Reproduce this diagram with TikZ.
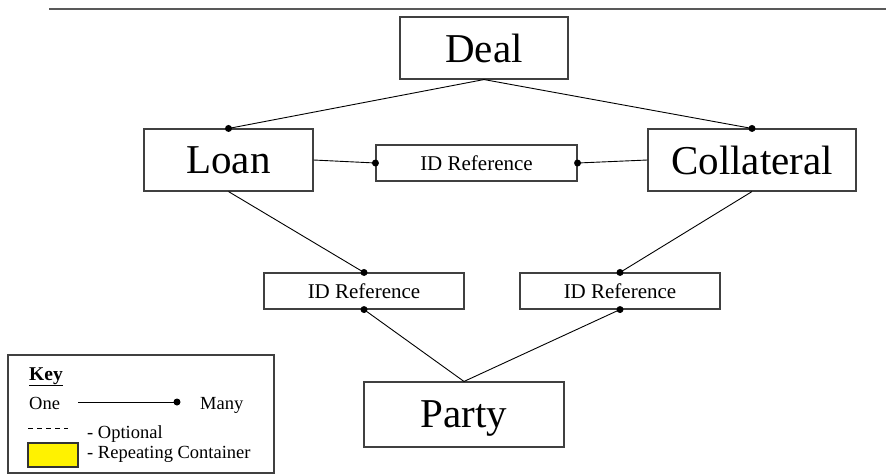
\documentclass[tikz,border=0pt]{standalone}
\usepackage{fontspec}
\setmainfont{Liberation Serif}
\begin{document}
\begin{tikzpicture}[x=1pt,y=-1pt,
  bigbox/.style={draw=black!75,line width=1.1pt,fill=white,inner sep=0pt,
    minimum height=62pt,text depth=0pt,font=\fontsize{41}{45}\selectfont},
  refbox/.style={draw=black!75,line width=1.1pt,fill=white,inner sep=0pt,
    minimum width=200pt,minimum height=36pt,text depth=0pt,font=\fontsize{21}{24}\selectfont},
  conn/.style={draw=black,line width=0.9pt},
  dot/.style={circle,fill=black,inner sep=0pt,minimum size=7pt},
  keytext/.style={inner sep=0pt,font=\fontsize{18.5}{21}\selectfont}]
\useasboundingbox (0,0) rectangle (886,475);
% top rule
\coordinate (ruleL) at (49,9);
\coordinate (ruleR) at (886,9);
\draw[black!65,line width=1.6pt] (ruleL) -- (ruleR);
% boxes
\node[bigbox,minimum width=168pt] (deal) at (484,48) {Deal};
\node[bigbox,minimum width=169pt] (loan) at (228.5,160) {Loan};
\node[bigbox,minimum width=208pt] (coll) at (752,160) {Collateral};
\node[refbox,minimum width=201pt] (idmid) at (476.5,163) {ID Reference};
\node[refbox] (idleft) at (364,291) {ID Reference};
\node[refbox] (idright) at (620,291) {ID Reference};
\node[bigbox,minimum width=200pt,minimum height=65pt] (party) at (464,414.5) {Party};
% connectors
\draw[conn] (deal.south) -- (loan.north);
\node[dot] at (loan.north) {};
\draw[conn] (deal.south) -- (coll.north);
\node[dot] at (coll.north) {};
\draw[conn] (loan.east) -- (idmid.west);
\node[dot] at (idmid.west) {};
\draw[conn] (coll.west) -- (idmid.east);
\node[dot] at (idmid.east) {};
\draw[conn] (loan.south) -- (idleft.north);
\node[dot] at (idleft.north) {};
\draw[conn] (coll.south) -- (idright.north);
\node[dot] at (idright.north) {};
\draw[conn] (idleft.south) -- (party.north);
\node[dot] at (idleft.south) {};
\draw[conn] (idright.south) -- (party.north);
\node[dot] at (idright.south) {};
% key
\node[draw=black!75,line width=1.1pt,minimum width=266pt,minimum height=118pt,inner sep=0pt] (keybox) at (141,414) {};
\node[inner sep=0pt,anchor=base west,font=\fontsize{19.5}{22}\selectfont\bfseries] (keytitle) at (29,380) {\underline{Key}};
\node[keytext,anchor=base west] (one) at (29,409) {One};
\node[keytext,anchor=base west] (many) at (200,409) {Many};
\coordinate (oneL) at (78,402);
\coordinate (oneR) at (177,402);
\draw[conn] (oneL) -- (oneR);
\node[dot] at (oneR) {};
\coordinate (dashL) at (28,428);
\coordinate (dashR) at (68,428);
\draw[black,line width=0.8pt,dash pattern=on 5pt off 4pt] (dashL) -- (dashR);
\node[keytext,anchor=base west] (optional) at (87,438) {- Optional};
\node[draw=black!80,line width=1.1pt,fill=yellow,minimum width=50pt,minimum height=24pt,inner sep=0pt] (yellowbox) at (53,455) {};
\node[keytext,anchor=base west] (repeating) at (87,458) {- Repeating Container};
\end{tikzpicture}
\end{document}
